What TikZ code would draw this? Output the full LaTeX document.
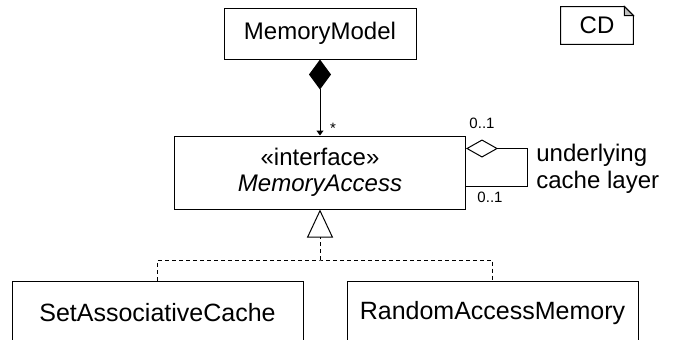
\documentclass[tikz,border=0pt]{standalone}
\usepackage{fontspec}
\setmainfont{Liberation Sans}
\usetikzlibrary{arrows.meta,positioning}
\tikzset{
	umlclass/.style={
			draw, line width=0.5pt, align=center, inner sep=0pt,
			font=\fontsize{12}{13}\selectfont
		},
	mult/.style={font=\fontsize{7.5}{9}\selectfont, inner sep=0pt},
	composition/.style={
			line width=0.5pt,
			{Diamond[length=15pt,width=11pt]}-{Triangle[length=2.5pt,width=3.5pt]}
		},
	aggregation/.style={line width=0.5pt, {Diamond[open,length=16pt,width=9pt]}-},
	realization/.style={line width=0.5pt, dash pattern=on 2pt off 1.5pt}
}

\begin{document}
\begin{tikzpicture}[x=0.5pt,y=-0.5pt]
        \useasboundingbox (0,0) rectangle (675,339);
        % classes
        \node[umlclass, minimum width=96pt, minimum height=25.5pt] (mm) at (320, 33.5) {MemoryModel};
        \node[umlclass, minimum width=145.5pt, minimum height=36.5pt] (ma) at (320, 172.5)
            {«interface»\\ \textit{MemoryAccess}};
        \node[umlclass, font=\fontsize{12.5}{14}\selectfont, minimum width=145.5pt, minimum height=32pt] (sac) at (157.5, 313) {SetAssociativeCache};
        \node[umlclass, font=\fontsize{12.5}{14}\selectfont, minimum width=145.5pt, minimum height=32pt] (ram) at (492.5, 313) {RandomAccessMemory};
        % diagram frame note
        \node[font=\fontsize{12}{14}\selectfont, minimum width=36pt, minimum height=18.5pt, inner sep=0pt] (cd) at (597, 25.5) {CD};
        \draw[line width=0.5pt] (cd.south west) -- (cd.north west) -- ([xshift=-4.5pt]cd.north east)
            -- ([yshift=-4.5pt]cd.north east) -- (cd.south east) -- cycle;
        \filldraw[line width=0.5pt, fill=gray!50] ([xshift=-4.5pt]cd.north east) -- ([yshift=-4.5pt]cd.north east)
            -- ([xshift=-4.5pt,yshift=-4.5pt]cd.north east) -- cycle;
        % composition
        \draw[composition] (mm.south) -- (ma.north);
        \node[mult] (star) at (333, 128) {*};
        % self aggregation
        \draw[aggregation] ([yshift=-6.5pt]ma.north east) -- ++(30.5pt,0) |- ([yshift=11.5pt]ma.south east);
        \node[mult] (m_top) at (482, 123) {0..1};
        \node[mult] (m_bot) at (490, 197) {0..1};
        \node[font=\fontsize{12}{13.5}\selectfont, align=left, inner sep=0pt, anchor=west] (role) at (536, 169)
            {underlying\\cache layer};
        % realization
        \coordinate (split) at (320, 260);
        \draw[realization] (sac.north) |- (split) -| (ram.north);
        \draw[realization, -{Triangle[open,length=14pt,width=13pt]}] (split) -- (ma.south);
    \end{tikzpicture}
\end{document}
